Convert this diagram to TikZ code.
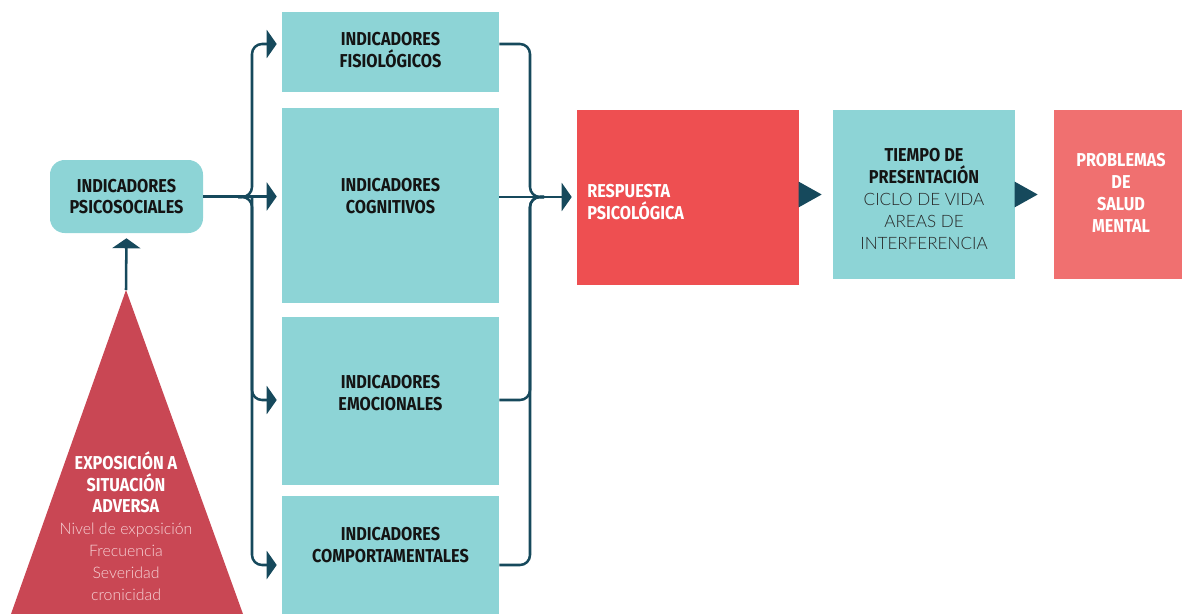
\documentclass[tikz,border=0pt]{standalone}
\usepackage{fontspec}
\setmainfont{Fira Sans}
\newfontfamily\condf[FakeStretch=0.87]{Fira Sans}
\newfontfamily\lightf{Lato Light}
\newcommand\lt{\lightf\mdseries\fontsize{12.8pt}{16.4pt}\selectfont}
\newcommand\ltsmall{\lightf\mdseries\fontsize{11.9pt}{16.4pt}\selectfont}
\usetikzlibrary{arrows.meta}

\definecolor{tealbox}{RGB}{141,212,214}
\definecolor{redbox}{RGB}{238,79,81}
\definecolor{pinkbox}{RGB}{240,112,112}
\definecolor{expored}{RGB}{201,71,84}
\definecolor{linkcol}{RGB}{22,73,92}
\definecolor{pinktext}{RGB}{248,213,216}

\tikzset{
  tbox/.style={fill=tealbox, minimum width=162.75pt, inner sep=0pt},
  head/.style={font={\condf\bfseries\fontsize{14pt}{16.4pt}\selectfont}, align=center, text=black!92, inner sep=0pt},
  conn/.style={draw=linkcol, line width=1.9pt},
  tip/.tip={Triangle[length=7.5pt,width=21pt]},
  bigtip/.tip={Triangle[length=17.25pt,width=18.75pt]}
}

\begin{document}
\begin{tikzpicture}[x=0.75pt,y=-0.75pt]
  \useasboundingbox (0,0) rectangle (1182,614);

  % exposure triangle
  \fill[expored] (126,290) -- (11,614) -- (243,614) -- cycle;
  \coordinate (apex) at (126,290);
  \node[head, text=white] (expo) at (126,526) {EXPOSICIÓN A\\SITUACIÓN\\ADVERSA\\
    {\ltsmall\color{pinktext}Nivel de exposición}\\{\ltsmall\color{pinktext}Frecuencia}\\
    {\ltsmall\color{pinktext}Severidad}\\{\ltsmall\color{pinktext}cronicidad}};

  % boxes
  \node[fill=tealbox, rounded corners=11pt, minimum width=114.75pt, minimum height=54.75pt,
    head, inner sep=0pt] (psico) at (126.5,196.5) {INDICADORES\\PSICOSOCIALES};
  \node[tbox, minimum height=60pt] (fis) at (390.5,52) {};
  \node[tbox, minimum height=146.25pt] (cog) at (390.5,205.5) {};
  \node[tbox, minimum height=126pt] (emo) at (390.5,401) {};
  \node[tbox, minimum height=88.5pt] (com) at (390.5,555) {};
  \node[head] (fisT) at (390.5,50) {INDICADORES\\FISIOLÓGICOS};
  \node[head] (cogT) at (390.5,196) {INDICADORES\\COGNITIVOS};
  \node[head] (emoT) at (390.5,393) {INDICADORES\\EMOCIONALES};
  \node[head] (comT) at (390.5,545) {INDICADORES\\COMPORTAMENTALES};

  \node[fill=redbox, minimum width=166.5pt, minimum height=131.25pt, inner sep=0pt] (resp) at (688,197.5) {};
  \node[head, text=white, align=left, anchor=west] (respT) at (587,202) {RESPUESTA\\PSICOLÓGICA};
  \node[fill=tealbox, minimum width=136.5pt, minimum height=126.75pt, inner sep=0pt] (tiem) at (924,194.5) {};
  \node[head] (tiemT) at (924,199) {TIEMPO DE\\PRESENTACIÓN\\
    {\lt\color{black!85}CICLO DE VIDA}\\{\lt\color{black!85}AREAS DE}\\{\lt\color{black!85}INTERFERENCIA}};
  \node[fill=pinkbox, minimum width=96pt, minimum height=126.75pt, inner sep=0pt] (prob) at (1118,194.5) {};
  \node[head, text=white] (probT) at (1121,193) {PROBLEMAS\\DE\\SALUD\\MENTAL};

  % rows and spines
  \coordinate (rFis) at (0,44);
  \coordinate (rCog) at (0,197);
  \coordinate (rEmo) at (0,400);
  \coordinate (rCom) at (0,565);
  \coordinate (lj) at (238,197);
  \coordinate (bl) at (252,197);
  \coordinate (br) at (530,197);
  \coordinate (rj) at (544,197);

  % links
  \draw[conn, -{tip}, shorten >=3.75pt] (apex) -- (psico.south);
  \draw[conn, -{tip}, shorten >=3.75pt] (psico.east) -- (cog.west |- psico.east);
  \foreach \r/\b in {rFis/fis, rCom/com}
    \draw[conn, rounded corners=7.5pt, -{tip}, shorten >=3.75pt] (lj) -| (bl |- \r) -- (\b.west |- \r);
  \draw[conn, rounded corners=7.5pt, -{tip}, shorten >=3.75pt] (bl) |- (emo.west |- rEmo);
  \foreach \b/\r in {fis/rFis, emo/rEmo, com/rCom}
    \draw[conn, rounded corners=7.5pt] (\b.east |- \r) -| (br) -- (rj);
  \draw[conn, -{tip}, shorten >=3.75pt] (cog.east |- rCog) -- (resp.west |- rCog);
  \draw[conn, -{bigtip}, shorten >=8.25pt] (resp.east |- tiem.west) -- (tiem.west);
  \draw[conn, -{bigtip}, shorten >=12pt] (tiem.east) -- (prob.west);
\end{tikzpicture}
\end{document}
